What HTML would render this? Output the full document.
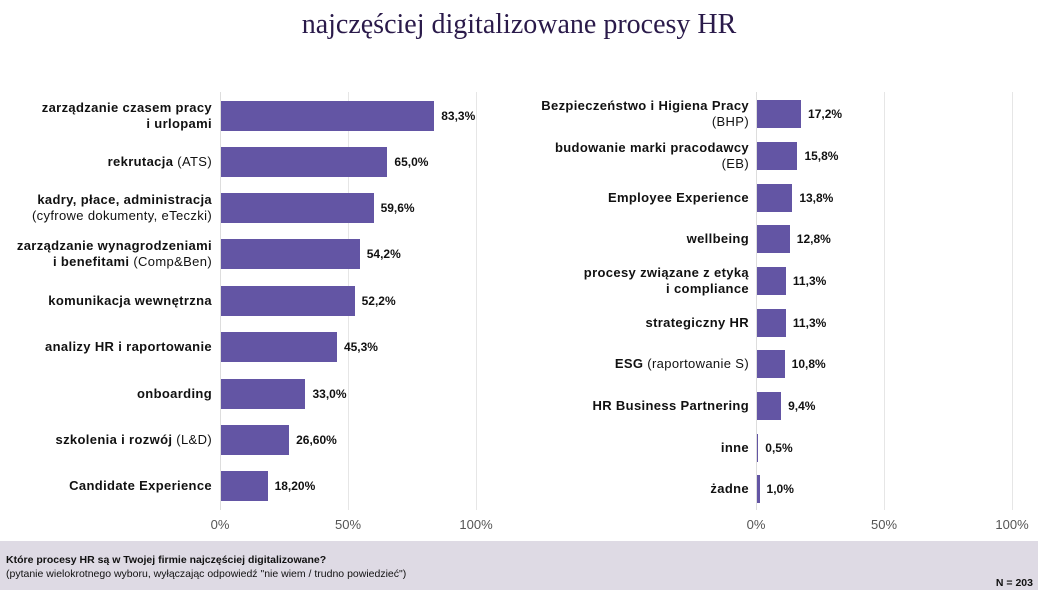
<!DOCTYPE html>
<html><head><meta charset="utf-8"><style>
body{margin:0;width:1038px;height:590px;position:relative;background:#fff;font-family:"Liberation Sans",sans-serif;overflow:hidden;color:#111}
.t{position:absolute;left:0;width:1038px;top:9px;text-align:center;font-family:"Liberation Serif",serif;font-size:28px;color:#2a1a4a}
.g{position:absolute;top:92px;height:418px;width:1px;background:#e6e6e6}
.b{position:absolute;background:#6355a4}
.l{position:absolute;text-align:right;font-size:13px;font-weight:bold;line-height:16px;letter-spacing:0.35px;transform:translateY(-50%)}
.l span{font-weight:normal}
.v{position:absolute;font-size:12px;font-weight:bold;transform:translateY(-50%)}
.x{position:absolute;top:517px;font-size:13px;color:#555;transform:translateX(-50%)}
.f{position:absolute;left:0;top:541px;width:1038px;height:49px;background:#dedae4;font-size:10.5px}
</style></head><body>
<div class="t">najczęściej digitalizowane procesy HR</div>
<div class="g" style="left:348px"></div><div class="g" style="left:476px"></div>
<div class="g" style="left:884px"></div><div class="g" style="left:1012px"></div>
<div class="g" style="left:220px;background:#ddd"></div><div class="g" style="left:756px;background:#ddd"></div>
<div id="L"></div><div id="R"></div>
<div class="x" style="left:220px">0%</div><div class="x" style="left:348px">50%</div><div class="x" style="left:476px">100%</div>
<div class="x" style="left:756px">0%</div><div class="x" style="left:884px">50%</div><div class="x" style="left:1012px">100%</div>
<div class="f"><div style="position:absolute;left:6px;top:13px;font-weight:bold">Które procesy HR są w Twojej firmie najczęściej digitalizowane?</div>
<div style="position:absolute;left:6px;top:27px">(pytanie wielokrotnego wyboru, wyłączając odpowiedź "nie wiem / trudno powiedzieć")</div>
<div style="position:absolute;right:5px;top:36px;font-weight:bold">N = 203</div></div>
<script>
function mk(id,x0,right,h,rows){let s='';rows.forEach(r=>{let[y,v,t,lab]=r;let w=v*2.56;
s+=`<div class="b" style="left:${x0}px;top:${y-h/2}px;width:${w}px;height:${h}px"></div>`;
s+=`<div class="l" style="right:${1038-right}px;top:${y}px">${lab}</div>`;
s+=`<div class="v" style="left:${x0+w+7}px;top:${y}px">${t}</div>`;});document.getElementById(id).innerHTML=s;}
mk('L',221,212,30,[[116,83.3,'83,3%','zarządzanie czasem pracy<br>i urlopami'],[162,65,'65,0%','rekrutacja <span>(ATS)</span>'],[208,59.6,'59,6%','kadry, płace, administracja<br><span>(cyfrowe dokumenty, eTeczki)</span>'],[254,54.2,'54,2%','zarządzanie wynagrodzeniami<br>i benefitami <span>(Comp&amp;Ben)</span>'],[301,52.2,'52,2%','komunikacja wewnętrzna'],[347,45.3,'45,3%','analizy HR i raportowanie'],[394,33,'33,0%','onboarding'],[440,26.6,'26,60%','szkolenia i rozwój <span>(L&amp;D)</span>'],[486,18.2,'18,20%','Candidate Experience']]);
mk('R',757,749,28,[[114,17.2,'17,2%','Bezpieczeństwo i Higiena Pracy<br><span>(BHP)</span>'],[156,15.8,'15,8%','budowanie marki pracodawcy<br><span>(EB)</span>'],[198,13.8,'13,8%','Employee Experience'],[239,12.8,'12,8%','wellbeing'],[281,11.3,'11,3%','procesy związane z etyką<br>i compliance'],[323,11.3,'11,3%','strategiczny HR'],[364,10.8,'10,8%','ESG <span>(raportowanie S)</span>'],[406,9.4,'9,4%','HR Business Partnering'],[448,0.5,'0,5%','inne'],[489,1.0,'1,0%','żadne']]);
</script>
</body></html>
